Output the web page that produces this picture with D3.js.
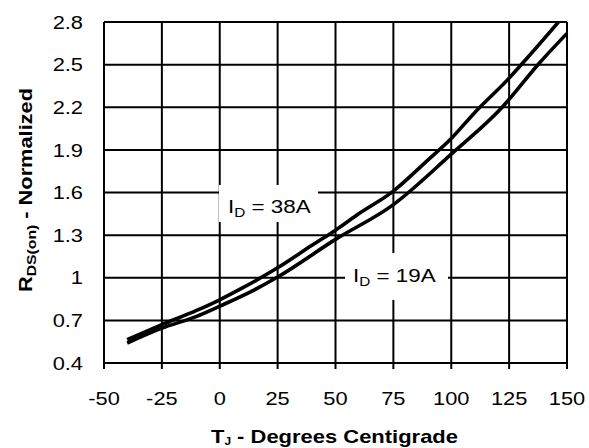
<!DOCTYPE html>
<html><head><meta charset="utf-8">
<script src="https://cdn.jsdelivr.net/npm/d3@7"></script>
<style>
html,body{margin:0;padding:0;background:#fff;}
svg{display:block;font-family:"Liberation Sans",Arial,sans-serif;}
</style></head>
<body><svg id="c" width="589" height="448"></svg>
<script>
// Data
const xTicks = [-50,-25,0,25,50,75,100,125,150];
const yTicks = [0.4,0.7,1.0,1.3,1.6,1.9,2.2,2.5,2.8];
const yTickLabels = ["0.4","0.7","1","1.3","1.6","1.9","2.2","2.5","2.8"];
const temps38 = [-40,-25,-10,0,10,25,40,50,60,75,90,100,110,125,133,150];
const rds38   = [0.565,0.67,0.77,0.845,0.93,1.07,1.23,1.335,1.45,1.61,1.83,1.98,2.16,2.405,2.55,2.87];
const temps19 = [-40,-25,-10,0,15,25,50,75,100,122,138,150];
const rds19   = [0.54,0.645,0.728,0.80,0.915,1.005,1.27,1.515,1.87,2.2,2.51,2.72];

const svg = d3.select("#c");
const L=104,R=567,T=22,B=363;
const x = d3.scaleLinear().domain([-50,150]).range([L,R]);
const y = d3.scaleLinear().domain([0.4,2.8]).range([B,T]);
const SX = 1.18;

// grid
const g = svg.append("g");
g.selectAll(".vx").data(xTicks).join("line")
  .attr("x1",d=>x(d)).attr("x2",d=>x(d)).attr("y1",T).attr("y2",B+6)
  .attr("stroke","#000").attr("stroke-width",2);
g.selectAll(".hy").data(yTicks).join("line")
  .attr("x1",L).attr("x2",R).attr("y1",d=>y(d)).attr("y2",d=>y(d))
  .attr("stroke","#000").attr("stroke-width",2);

// label boxes (white) to break gridlines
const boxes = [{x0:219,x1:318,y0:185,y1:222},{x0:345,x1:448,y0:253,y1:300}];
svg.selectAll(".box").data(boxes).join("rect")
  .attr("x",d=>d.x0).attr("y",d=>d.y0).attr("width",d=>d.x1-d.x0).attr("height",d=>d.y1-d.y0)
  .attr("fill","#fff");

// curves
svg.append("clipPath").attr("id","cp").append("rect").attr("x",L).attr("y",T-1).attr("width",R-L+2).attr("height",B-T+2);
const line = d3.line().x(d=>x(d[0])).y(d=>y(d[1])).curve(d3.curveMonotoneX);
const series = [d3.zip(temps38,rds38), d3.zip(temps19,rds19)];
svg.append("g").attr("clip-path","url(#cp)").selectAll("path").data(series).join("path")
  .attr("d",line).attr("fill","none").attr("stroke","#000").attr("stroke-width",3.6)
  .attr("stroke-linejoin","round");

// curve labels
const lb = svg.selectAll(".lbl").data([[228,213,"38A"],[353,282,"19A"]]).join("g")
  .attr("transform",d=>`translate(${d[0]},${d[1]}) scale(${SX},1)`);
const lt = lb.append("text").attr("font-size",19).attr("fill","#000");
lt.append("tspan").text("I");
lt.append("tspan").attr("font-size",13).attr("dy",4).text("D");
lt.append("tspan").attr("dy",-4).text(d=>" = "+d[2]);

// tick labels
svg.selectAll(".xl").data(xTicks).join("g")
  .attr("transform",d=>`translate(${x(d)},405) scale(${SX},1)`)
  .append("text").attr("text-anchor","middle").attr("font-size",18.5).text(d=>d);
svg.selectAll(".yl").data(yTicks).join("g")
  .attr("transform",d=>`translate(83,${y(d)+6.7}) scale(${SX},1)`)
  .append("text").attr("text-anchor","end").attr("font-size",18.5).text((d,i)=>yTickLabels[i]);

// axis titles
const xt = svg.append("text").attr("x",211).attr("y",443).attr("font-size",18.5).attr("font-weight","bold")
  .attr("textLength",247).attr("lengthAdjust","spacingAndGlyphs");
xt.append("tspan").text("T");
xt.append("tspan").attr("font-size",10).attr("dy",2).text("J");
xt.append("tspan").attr("dy",-2).text(" - Degrees Centigrade");

const yt = svg.append("text").attr("transform","translate(32,292) rotate(-90)").attr("font-size",18).attr("font-weight","bold")
  .attr("textLength",204).attr("lengthAdjust","spacingAndGlyphs");
yt.append("tspan").text("R");
yt.append("tspan").attr("font-size",13).attr("dy",4).text("DS(on)");
yt.append("tspan").attr("dy",-4).text(" - Normalized");
</script></body></html>
